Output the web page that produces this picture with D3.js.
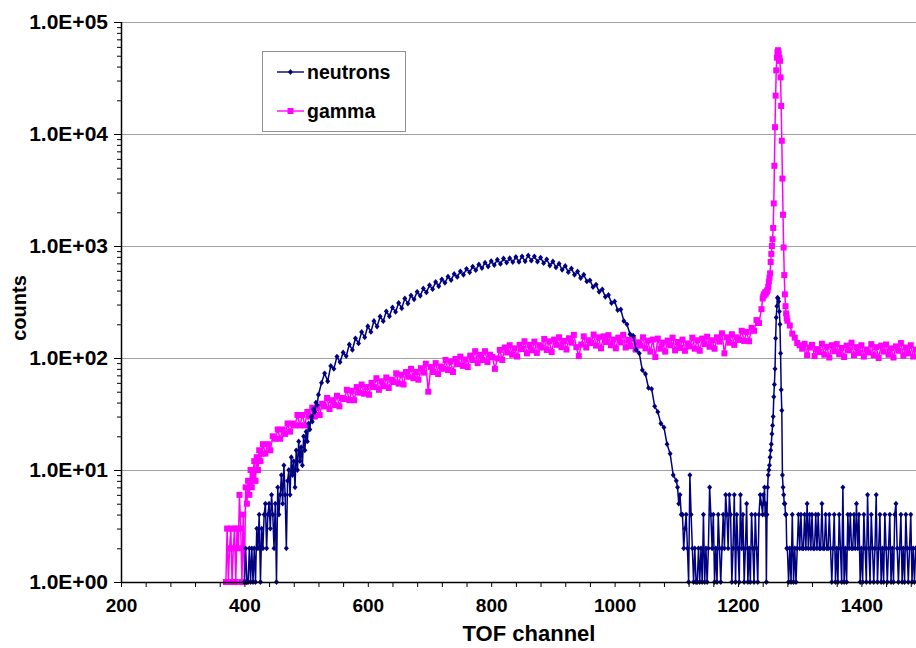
<!DOCTYPE html>
<html><head><meta charset="utf-8">
<script src="https://cdn.jsdelivr.net/npm/d3@7/dist/d3.min.js"></script>
<style>body{margin:0;background:#fff}text{font-family:"Liberation Sans",Arial,sans-serif;font-weight:bold;fill:#000}</style>
</head><body><svg id="c" width="916" height="648"></svg>
<script>
// TOF channels sampled for each series
const gammaChannels = [...d3.range(370, 430, 2), ...d3.range(430, 1240, 4),
                       ...d3.range(1240, 1280, 1), ...d3.range(1280, 1490, 4)];
const neutronChannels = [...d3.range(400, 520, 2), ...d3.range(520, 1100, 5),
                         ...d3.range(1100, 1240, 2), ...d3.range(1240, 1280, 1), ...d3.range(1280, 1490, 2)];

const neutrons = [
  // 400-518 step 2
  1,2,1,1,2,1,2,1,2,1,
  3,2,4,1,3,2,4,5,2,4,
  5,3,6,4,2,5,1,7,4,6,
  9,5,11,6,2,8,10,6,13,9,
  12,7,15,10,18,12,16,11,20,15,
  22,18,26,23,30,27,35,33,40,38,
  // 520-1095 step 5
  47,60,73,62,85,80,103,92,112,104,
  132,118,150,135,171,153,192,171,214,191,
  235,213,261,236,283,258,310,278,340,306,
  362,334,390,359,418,385,447,412,477,437,
  504,469,533,496,563,530,594,554,626,582,
  655,608,685,635,710,655,733,676,754,692,
  773,711,777,718,798,721,809,730,824,740,
  808,724,788,702,761,670,727,644,695,613,
  664,584,630,553,593,518,554,483,494,430,
  452,390,410,352,365,309,320,268,271,214,
  200,163,158,118,110,78,72,54,53,37,
  33,26,24,17,14,9,
  // 1100-1238 step 2
  8,7,5,6,4,4,2,3,4,2,
  1,9,4,2,1,2,1,1,2,1,
  2,1,4,1,2,1,2,7,4,2,
  4,1,2,1,4,2,1,2,4,2,
  6,4,2,6,4,1,2,6,1,4,
  2,1,6,2,4,1,2,5,1,2,
  1,4,2,1,4,2,1,4,6,5,
  // 1240-1279 step 1
  4,6,5,7,4,5,1,4,7,9,
  10,11,13,15,17,21,25,30,45,58,
  80,150,230,290,345,340,320,260,200,110,
  52,34,9,7,6,5,5,4,4,2,
  // 1280-1488 step 2
  2,1,2,1,4,1,2,1,2,4,
  2,4,2,2,4,2,5,2,4,2,
  4,2,2,4,2,4,2,2,5,2,
  2,4,2,2,4,2,1,2,4,1,
  2,1,4,2,1,7,1,2,1,4,
  2,4,2,2,4,2,5,2,4,1,
  2,1,4,2,1,6,2,1,4,2,
  1,2,6,1,2,4,1,2,1,4,
  2,1,2,4,1,2,1,4,5,2,
  1,2,4,1,2,1,4,2,1,2,
  4,1,2,1,2
];

const gamma = [
  // 370-428 step 2
  1,3,1,2,3,1,2,3,1,3,
  2,6,3,1,4,1,7,5,8,6,
  10,7,9,12,8,13,10,15,12,14,
  // 430-1238 step 4
  17,14,17,15,20,19,23,19,23,21,
  26,22,26,25,31,25,31,25,33,30,
  36,30,36,31,39,37,44,35,42,38,
  46,37,44,43,52,42,51,42,55,49,
  58,48,55,47,60,55,66,52,62,56,
  67,54,64,61,73,59,71,58,75,68,
  80,66,75,64,81,74,89,50,83,75,
  90,72,84,80,96,78,93,75,98,88,
  103,85,97,83,105,96,115,90,107,96,
  115,92,107,102,80,99,118,96,124,112,
  130,107,122,103,131,120,141,110,131,117,
  140,111,130,124,148,118,141,113,146,131,
  153,125,142,119,150,137,161,125,104,132,
  156,124,144,136,162,129,153,122,156,139,
  160,130,146,122,152,138,161,124,145,128,
  151,119,138,129,153,122,143,114,146,102,
  149,121,137,114,143,130,152,117,139,123,
  146,116,135,127,152,121,144,116,149,133,
  155,126,144,121,153,140,166,110,153,137,
  163,131,153,145,175,142,171,141,186,175,
  218,205,273,
  // 1240-1279 step 1
  340,355,370,365,385,375,390,395,405,430,
  480,520,570,720,850,1000,1150,1450,2400,5200,
  11500,22000,37000,48000,54000,56000,52000,48000,45000,32000,
  17800,8700,4000,1900,970,550,370,290,250,228,
  // 1280-1488 step 4
  215,195,165,152,136,130,121,134,106,124,
  131,104,120,113,134,107,126,101,130,115,
  133,108,123,102,129,117,137,106,125,111,
  130,103,119,112,133,106,125,100,129,114,
  132,107,122,101,127,116,136,105,124,110,
  130,103,119
];

const xMajorTicks = [200, 400, 600, 800, 1000, 1200, 1400];
const yMajorTicks = [1, 10, 100, 1000, 10000, 100000];
const yTickLabels = ["1.0E+00","1.0E+01","1.0E+02","1.0E+03","1.0E+04","1.0E+05"];
const seriesNames = ["neutrons", "gamma"];
const seriesColors = ["#000080", "#FF00FF"];

const svg = d3.select("#c");
const L = 121, R = 916, T = 22, B = 582;
const x = d3.scaleLinear().domain([200, 200 + (R - L) / 0.617]).range([L, R]);
const y = d3.scaleLog().domain([1, 100000]).range([B, T]);

// gridlines
svg.append("g").selectAll("line").data(yMajorTicks.slice(1)).join("line")
  .attr("x1", L).attr("x2", R).attr("y1", d => y(d)).attr("y2", d => y(d))
  .attr("stroke", "#a0a0a0").attr("stroke-width", 1).attr("shape-rendering","crispEdges");

const nData = neutronChannels.map((c, i) => ({c, v: neutrons[i]})).filter(d => d.v != null);
const gData = gammaChannels.map((c, i) => ({c, v: gamma[i]})).filter(d => d.v != null);
const line = d3.line().x(d => x(d.c)).y(d => y(d.v));

const GS = 6; // gamma square size
const plot = svg.append("g");
plot.append("path").datum(gData).attr("d", line).attr("fill","none")
  .attr("stroke", seriesColors[1]).attr("stroke-width", 1.5);
plot.append("g").selectAll("rect").data(gData).join("rect")
  .attr("x", d => x(d.c) - GS / 2).attr("y", d => y(d.v) - GS / 2).attr("width", GS).attr("height", GS)
  .attr("fill", seriesColors[1]);
plot.append("path").datum(nData).attr("d", line).attr("fill","none")
  .attr("stroke", seriesColors[0]).attr("stroke-width", 1.5);
const diamond = "M0,-2.9L2.5,0L0,2.9L-2.5,0Z";
plot.append("g").selectAll("path").data(nData).join("path")
  .attr("d", diamond).attr("transform", d => `translate(${x(d.c)},${y(d.v)})`)
  .attr("fill", seriesColors[0]);

// axes
const xMinor = d3.range(200, 1481, 40);
const xAxis = d3.axisBottom(x).tickValues(xMinor).tickSize(5)
  .tickFormat(d => xMajorTicks.includes(d) ? d : "");
const gx = svg.append("g").attr("transform", `translate(0,${B})`).call(xAxis);
gx.select(".domain").attr("d", `M${L},0.5H${R}`).attr("stroke","#000").attr("stroke-width",1.5);
gx.selectAll(".tick line").attr("stroke","#000");
gx.selectAll(".tick text").attr("font-size", 19).attr("dy", 0).attr("y", 30)
  .style("font-family", '"Liberation Sans",Arial,sans-serif').style("font-weight","bold");

const yMinor = [];
for (let e = 0; e < 5; e++) for (let m = 2; m <= 9; m++) yMinor.push(m * Math.pow(10, e));
const gyMinor = svg.append("g").attr("transform", `translate(${L},0)`)
  .call(d3.axisLeft(y).tickValues(yMinor).tickSize(4).tickFormat(""));
gyMinor.select(".domain").remove();
const gy = svg.append("g").attr("transform", `translate(${L},0)`)
  .call(d3.axisLeft(y).tickValues(yMajorTicks).tickSize(7)
    .tickFormat(d => yTickLabels[yMajorTicks.indexOf(d)]));
gy.select(".domain").attr("d", `M0.5,${T}V${B}`).attr("stroke","#000").attr("stroke-width",1.5);
gy.selectAll(".tick text").attr("font-size", 21).attr("x", -13)
  .style("font-family", '"Liberation Sans",Arial,sans-serif').style("font-weight","bold");

// axis titles
svg.append("text").attr("x", 529).attr("y", 641).attr("text-anchor","middle")
  .attr("font-size", 22).text("TOF channel");
svg.append("text").attr("transform", "translate(26,308) rotate(-90)").attr("text-anchor","middle")
  .attr("font-size", 20).text("counts");

// legend
const lg = svg.append("g");
lg.append("rect").attr("x", 262.5).attr("y", 51.5).attr("width", 143).attr("height", 80)
  .attr("fill","#fff").attr("stroke","#909090");
const ly = [72, 111];
seriesNames.forEach((name, i) => {
  lg.append("line").attr("x1", 277).attr("x2", 304).attr("y1", ly[i]).attr("y2", ly[i])
    .attr("stroke", seriesColors[i]).attr("stroke-width", 1.4);
  if (i === 0) lg.append("path").attr("d", diamond).attr("transform", `translate(290.5,${ly[i]})`).attr("fill", seriesColors[i]);
  else lg.append("rect").attr("x", 290.5 - GS / 2).attr("y", ly[i] - GS / 2).attr("width", GS).attr("height", GS).attr("fill", seriesColors[i]);
  lg.append("text").attr("x", 307).attr("y", ly[i] + 7).attr("font-size", 19.5).text(name);
});
</script></body></html>
